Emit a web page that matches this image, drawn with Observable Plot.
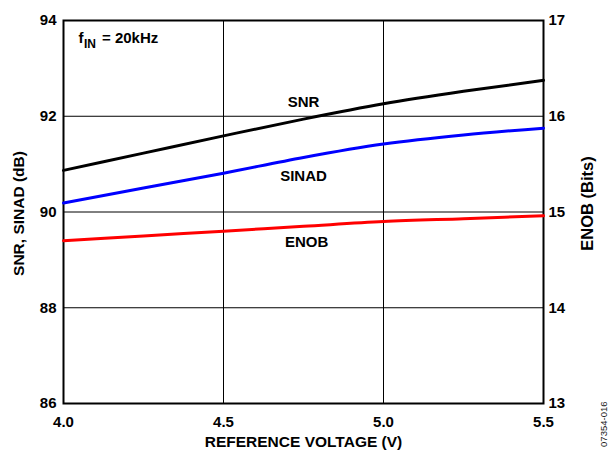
<!DOCTYPE html>
<html>
<head>
<meta charset="utf-8">
<script src="https://cdn.jsdelivr.net/npm/d3@7"></script>
<script src="https://cdn.jsdelivr.net/npm/@observablehq/plot@0.6"></script>
<style>
  body { margin: 0; background: #fff; }
  svg { font-family: "Liberation Sans", Arial, sans-serif; }
</style>
</head>
<body>
<div id="chart"></div>
<script>
// Reference voltage sweep (V)
const voltage = [4.0, 4.25, 4.5, 4.75, 5.0, 5.25, 5.5];
// Signal-to-noise ratio (dB)
const snr = [90.87, 91.23, 91.59, 91.94, 92.26, 92.52, 92.75];
// Signal-to-noise-and-distortion (dB)
const sinad = [90.19, 90.50, 90.81, 91.14, 91.42, 91.61, 91.75];
// Effective number of bits
const enob = [14.70, 14.75, 14.80, 14.85, 14.90, 14.93, 14.96];

const xTicks = [4.0, 4.5, 5.0, 5.5];
const dbTicks = [86, 88, 90, 92, 94];
const bitTicks = [13, 14, 15, 16, 17];

// ENOB shares the dB scale: 13 bits sits at 86 dB, 17 bits at 94 dB
const bitsToDb = (b) => 86 + (b - 13) * 2;

const rows = (ys) => voltage.map((v, i) => ({v, y: ys[i]}));

const chart = Plot.plot({
  width: 613,
  height: 450,
  marginLeft: 63,
  marginRight: 70,
  marginTop: 20,
  marginBottom: 47,
  style: {fontSize: "15px", fontWeight: "bold", color: "#000", background: "#fff"},
  x: {domain: [4.0, 5.5]},
  y: {domain: [86, 94]},
  marks: [
    Plot.gridX(xTicks, {stroke: "#000", strokeOpacity: 1, strokeWidth: 1}),
    Plot.gridY(dbTicks, {stroke: "#000", strokeOpacity: 1, strokeWidth: 1}),
    Plot.frame({stroke: "#000", strokeWidth: 2}),
    Plot.axisX(xTicks, {tickSize: 0, tickPadding: 13, tickFormat: d3.format(".1f"), label: null}),
    Plot.axisY(dbTicks, {tickSize: 0, tickPadding: 7, label: null}),
    Plot.axisY(bitTicks.map(bitsToDb), {anchor: "right", tickSize: 0, tickPadding: 5,
      tickFormat: (d) => String(13 + (d - 86) / 2), label: null}),
    Plot.line(rows(snr), {x: "v", y: "y", stroke: "#000", strokeWidth: 3, curve: "monotone-x"}),
    Plot.line(rows(sinad), {x: "v", y: "y", stroke: "#0000ff", strokeWidth: 3, curve: "monotone-x"}),
    Plot.line(rows(enob.map(bitsToDb)), {x: "v", y: "y", stroke: "#ff0000", strokeWidth: 3, curve: "monotone-x"}),
    // series labels
    Plot.text(["SNR"], {x: 4.75, y: 92.29, fill: "#000"}),
    Plot.text(["SINAD"], {x: 4.75, y: 90.74, fill: "#000"}),
    Plot.text(["ENOB"], {x: 4.76, y: 89.37, fill: "#000"}),
    // test condition: f_IN = 20kHz
    Plot.text(["f"], {frameAnchor: "top-left", dx: 15, dy: 18, textAnchor: "start", lineAnchor: "middle", fill: "#000"}),
    Plot.text(["IN"], {frameAnchor: "top-left", dx: 20.5, dy: 24, textAnchor: "start", lineAnchor: "middle", fontSize: 12, fill: "#000"}),
    Plot.text(["= 20kHz"], {frameAnchor: "top-left", dx: 38.5, dy: 18, textAnchor: "start", lineAnchor: "middle", fill: "#000"}),
    // axis titles
    Plot.text(["SNR, SINAD (dB)"], {frameAnchor: "left", dx: -44, dy: 1.5, rotate: -90,
      textAnchor: "middle", lineAnchor: "middle", fontSize: 15.5, fill: "#000"}),
    Plot.text(["ENOB (Bits)"], {frameAnchor: "right", dx: 44, dy: -8.5, rotate: -90,
      textAnchor: "middle", lineAnchor: "middle", fontSize: 16.5, fill: "#000"}),
    Plot.text(["REFERENCE VOLTAGE (V)"], {frameAnchor: "bottom", dy: 38.5,
      textAnchor: "middle", lineAnchor: "middle", fontSize: 15.5, fill: "#000"}),
    Plot.text(["07354-016"], {frameAnchor: "bottom-right", dx: 60, dy: -2, rotate: -90,
      textAnchor: "end", lineAnchor: "middle", fontSize: 9.5, fontWeight: "normal", fill: "#222"})
  ]
});

document.getElementById("chart").append(chart);
</script>
</body>
</html>
